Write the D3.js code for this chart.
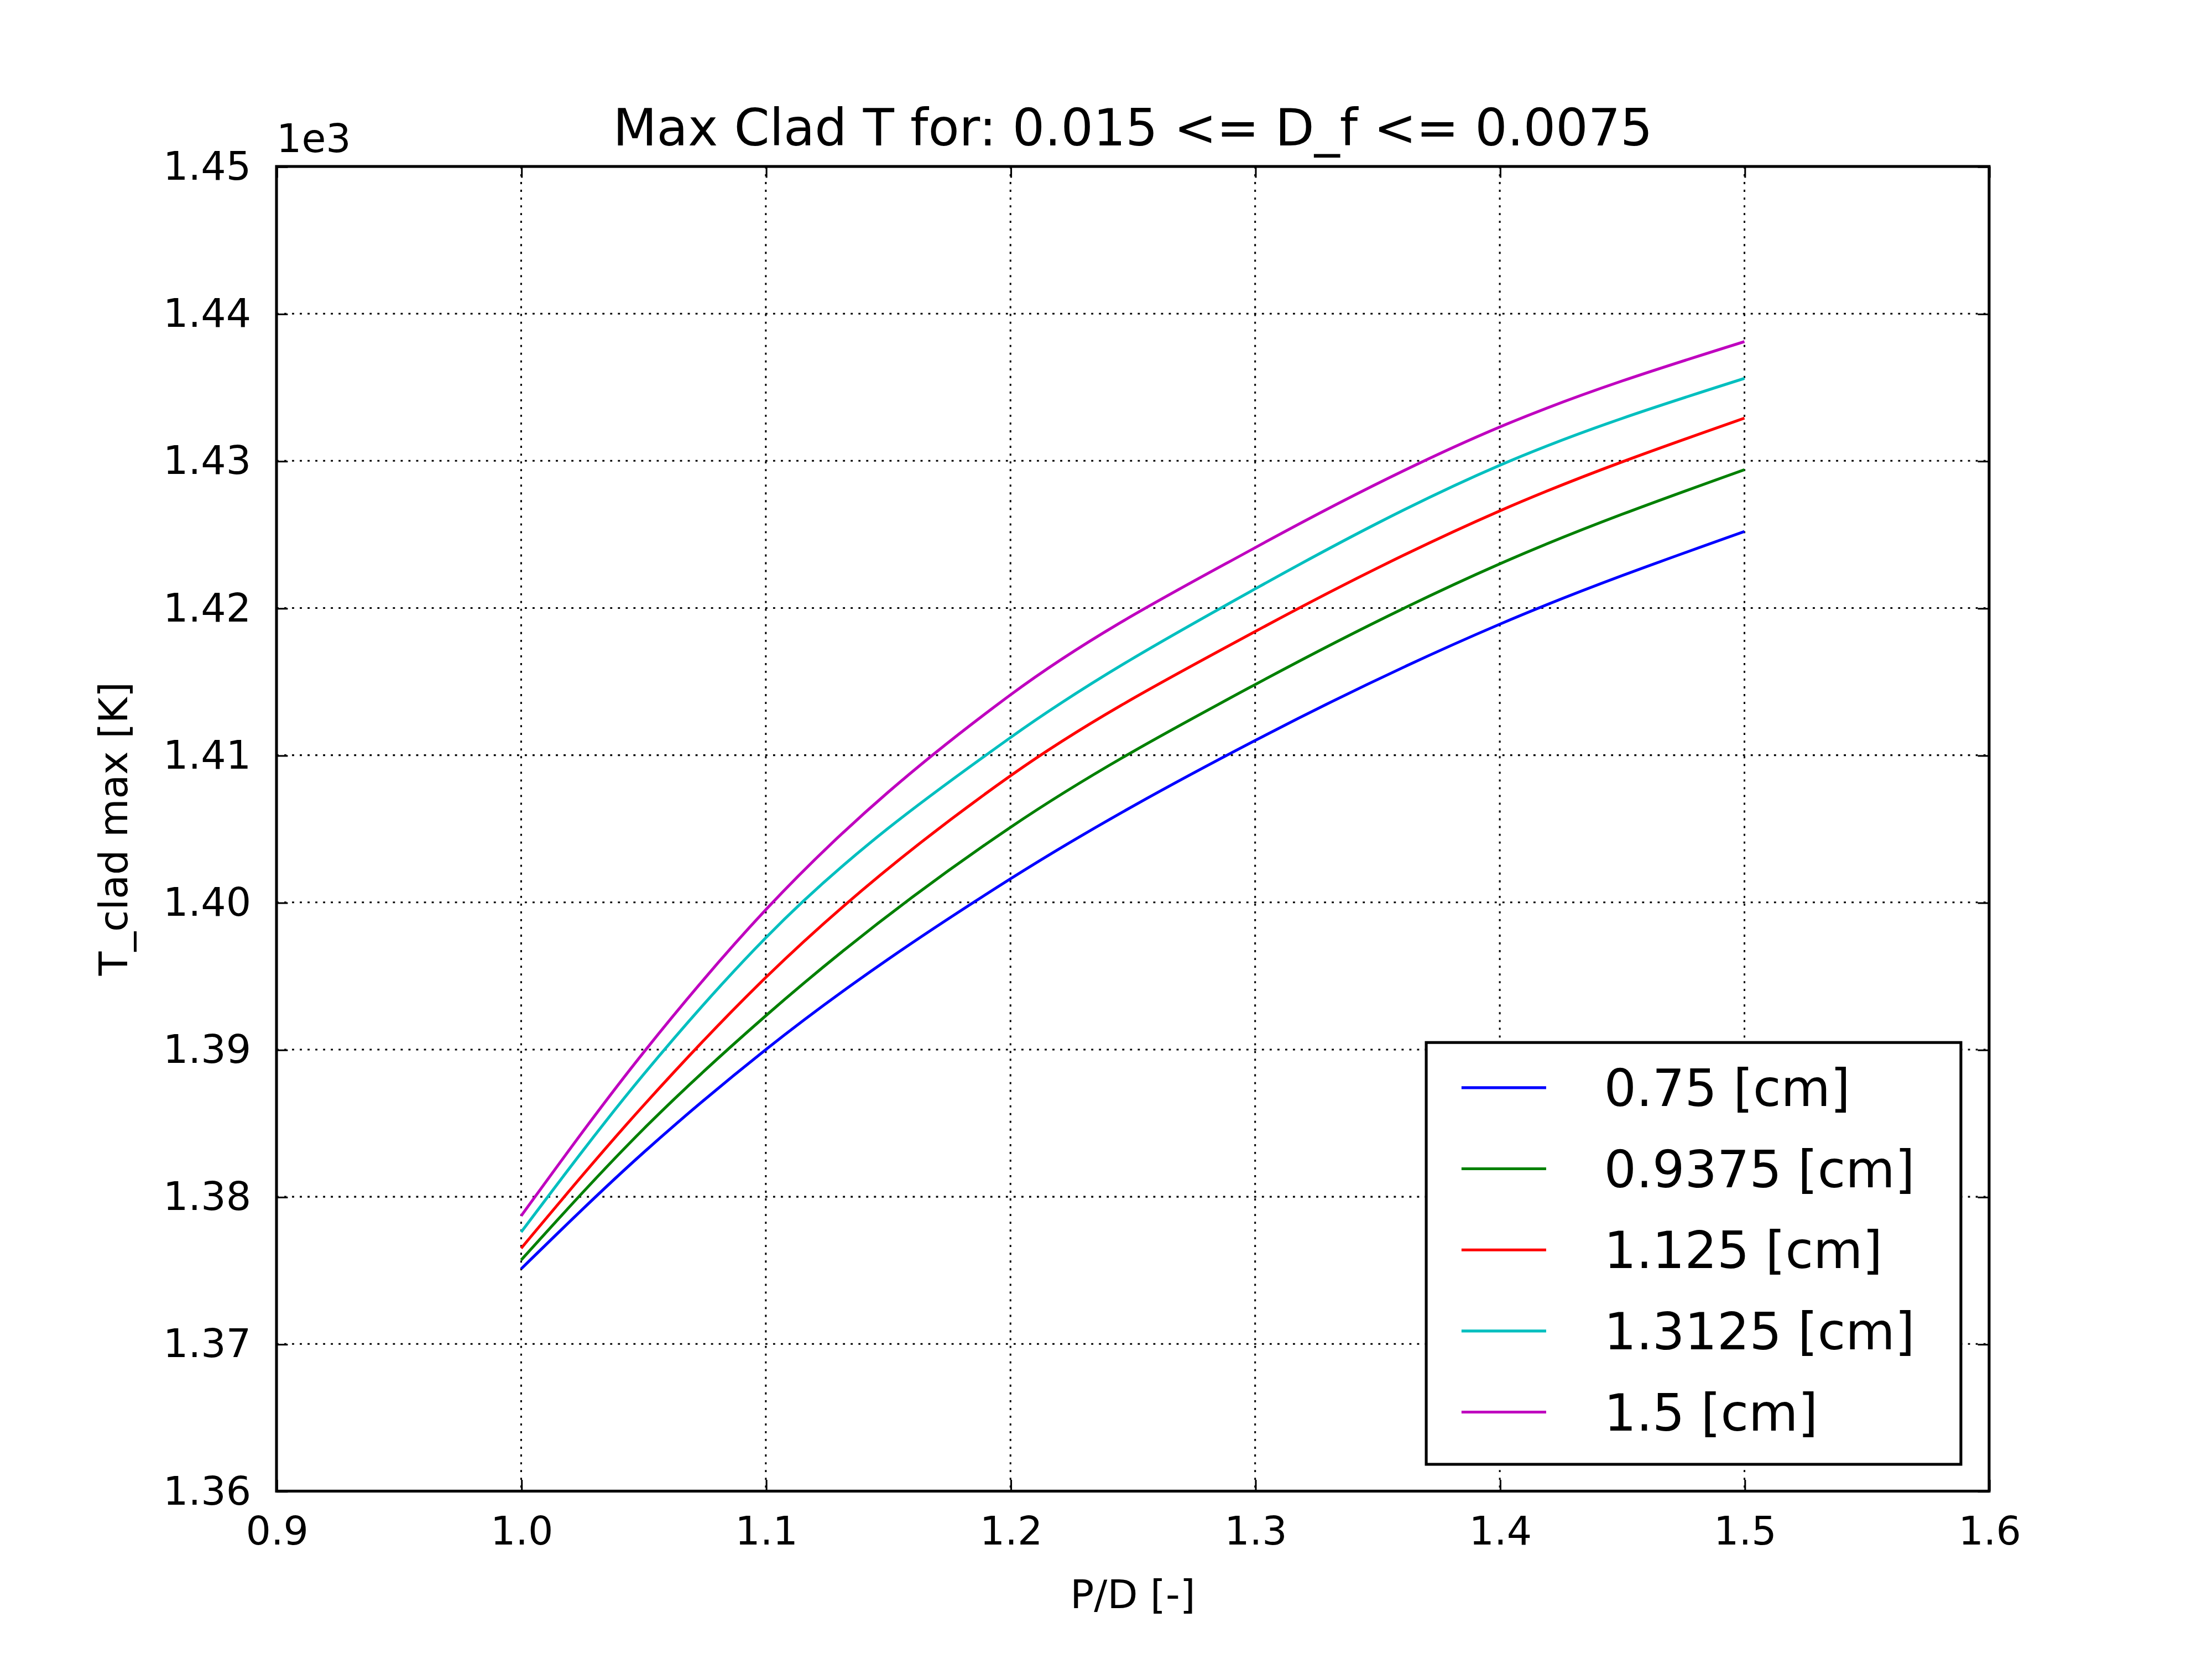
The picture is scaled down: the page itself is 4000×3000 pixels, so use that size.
<!DOCTYPE html>
<html><head><meta charset="utf-8">
<script src="https://cdn.jsdelivr.net/npm/d3@7"></script>
<style>body{margin:0;background:#fff}text{font-family:"DejaVu Sans",sans-serif}</style>
</head><body>
<svg id="c" width="4000" height="3000" viewBox="0 0 1568 1176"></svg>
<script>
const pd = [1.0, 1.05, 1.1, 1.2, 1.3, 1.4, 1.5];
const seriesNames = ["0.75 [cm]", "0.9375 [cm]", "1.125 [cm]", "1.3125 [cm]", "1.5 [cm]"];
const colors = ["#0000ff", "#008000", "#ff0000", "#00bfbf", "#bf00bf"];
const tBlue    = [1.3751, 1.3830, 1.3900, 1.4016, 1.4110, 1.4189, 1.4252];
const tGreen   = [1.3757, 1.3846, 1.3923, 1.4051, 1.4148, 1.4230, 1.4294];
const tRed     = [1.3765, 1.3862, 1.3949, 1.4086, 1.4184, 1.4266, 1.4329];
const tCyan    = [1.3776, 1.3883, 1.3976, 1.4112, 1.4213, 1.4297, 1.4356];
const tMagenta = [1.3787, 1.3898, 1.3995, 1.4141, 1.4241, 1.4323, 1.4381];
const allT = [tBlue, tGreen, tRed, tCyan, tMagenta];
const xTicks = [0.9, 1.0, 1.1, 1.2, 1.3, 1.4, 1.5, 1.6];
const yTicks = [1.36, 1.37, 1.38, 1.39, 1.40, 1.41, 1.42, 1.43, 1.44, 1.45];

const L = 196, R = 1410, T = 118, B = 1057;
const svg = d3.select("#c");
const x = d3.scaleLinear().domain([0.9, 1.6]).range([L, R]);
const y = d3.scaleLinear().domain([1.36, 1.45]).range([B, T]);

// grid
svg.append("g").selectAll("line").data(xTicks).enter().append("line")
  .attr("x1", d => x(d)).attr("x2", d => x(d)).attr("y1", T).attr("y2", B)
  .attr("stroke", "#000").attr("stroke-dasharray", "1.5,4").attr("stroke-width", 1.2);
svg.append("g").selectAll("line").data(yTicks).enter().append("line")
  .attr("y1", d => y(d)).attr("y2", d => y(d)).attr("x1", L).attr("x2", R)
  .attr("stroke", "#000").attr("stroke-dasharray", "1.5,4").attr("stroke-width", 1.2);

// lines
const line = d3.line().x((d, i) => x(pd[i])).y(d => y(d)).curve(d3.curveMonotoneX);
svg.append("g").selectAll("path").data(allT).enter().append("path")
  .attr("d", line).attr("fill", "none").attr("stroke", (d, i) => colors[i]).attr("stroke-width", 2);

// axes with inward ticks on all sides
const fmt = d3.format(".1f"), fmtY = d3.format(".2f");
function ax(axis, tr) {
  const g = svg.append("g").attr("transform", tr).call(axis);
  g.select(".domain").remove();
  g.selectAll("line").attr("stroke", "#000").attr("stroke-width", 1.2);
  g.selectAll("text").attr("font-size", 28).attr("fill", "#000");
  return g;
}
ax(d3.axisBottom(x).tickValues(xTicks).tickFormat(fmt).tickSize(-8).tickPadding(18), `translate(0,${B})`);
ax(d3.axisTop(x).tickValues(xTicks).tickSize(-8).tickFormat(""), `translate(0,${T})`);
ax(d3.axisLeft(y).tickValues(yTicks).tickFormat(fmtY).tickSize(-8).tickPadding(18), `translate(${L},0)`);
ax(d3.axisRight(y).tickValues(yTicks).tickSize(-8).tickFormat(""), `translate(${R},0)`);

svg.append("rect").attr("x", L).attr("y", T).attr("width", R - L).attr("height", B - T)
  .attr("fill", "none").attr("stroke", "#000").attr("stroke-width", 2);

svg.append("text").attr("x", 196).attr("y", 108).attr("font-size", 28).text("1e3");
svg.append("text").attr("x", (L + R) / 2).attr("y", 103).attr("text-anchor", "middle")
  .attr("font-size", 36).text("Max Clad T for: 0.015 <= D_f <= 0.0075");
svg.append("text").attr("x", (L + R) / 2).attr("y", 1140).attr("text-anchor", "middle")
  .attr("font-size", 28).text("P/D [-]");
svg.append("text").attr("transform", `translate(90,${(T + B) / 2}) rotate(-90)`)
  .attr("text-anchor", "middle").attr("font-size", 28).text("T_clad max [K]");

// legend
const lg = svg.append("g");
lg.append("rect").attr("x", 1011).attr("y", 739).attr("width", 379).attr("height", 299)
  .attr("fill", "#fff").attr("stroke", "#000").attr("stroke-width", 2);
seriesNames.forEach((n, i) => {
  const yy = 771 + i * 57.5;
  lg.append("line").attr("x1", 1036).attr("x2", 1096).attr("y1", yy).attr("y2", yy)
    .attr("stroke", colors[i]).attr("stroke-width", 2);
  lg.append("text").attr("x", 1137).attr("y", yy + 13).attr("font-size", 36).text(n);
});
</script>
</body></html>
